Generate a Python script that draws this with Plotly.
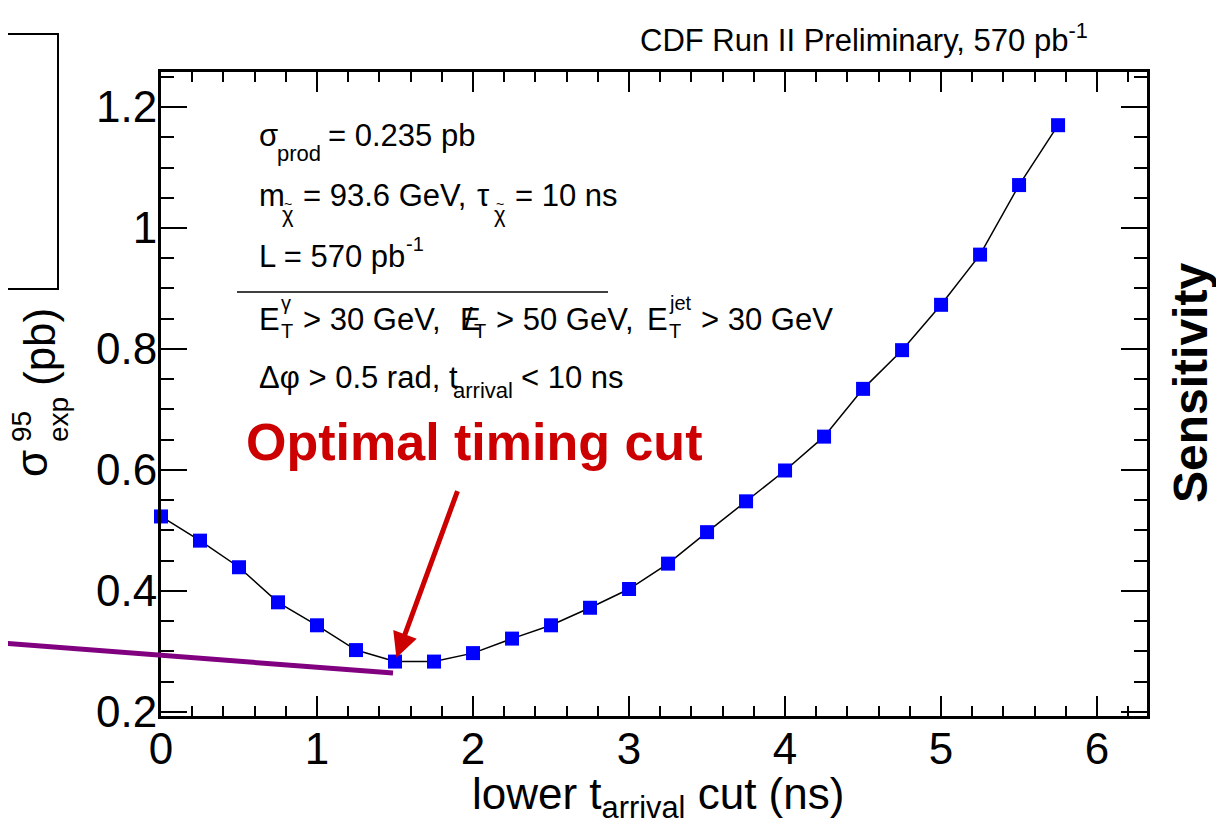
import plotly.graph_objects as go

# ---- data ----
t_cut = [0.0, 0.25, 0.5, 0.75, 1.0, 1.25, 1.5, 1.75, 2.0, 2.25, 2.5, 2.75,
         3.0, 3.25, 3.5, 3.75, 4.0, 4.25, 4.5, 4.75, 5.0, 5.25, 5.5, 5.75]
sigma_exp = [0.523, 0.483, 0.439, 0.381, 0.343, 0.302, 0.283, 0.283, 0.297, 0.321, 0.343, 0.372,
             0.403, 0.445, 0.497, 0.548, 0.599, 0.655, 0.734, 0.798, 0.873, 0.956, 1.071, 1.170]
x_tickvals = [0, 1, 2, 3, 4, 5, 6]
x_ticktext = ["0", "1", "2", "3", "4", "5", "6"]
y_tickvals = [0.2, 0.4, 0.6, 0.8, 1.0, 1.2]
y_ticktext = ["0.2", "0.4", "0.6", "0.8", "1", "1.2"]
optimal_cut = (1.5, 0.283)

W, H = 1224, 827
OFF = 8  # page body margin
L, R, T, B = 161, 77, 72, 111
PW, PH = W - L - R, H - T - B
FONT = "Liberation Sans, Arial, sans-serif"


def px(x, y):
    return (x - L) / PW, (H - B - y) / PH


fig = go.Figure()
fig.add_trace(go.Scatter(
    x=t_cut, y=sigma_exp, mode="lines+markers",
    line=dict(color="black", width=1.5),
    marker=dict(symbol="square", size=14, color="#0000ff", line=dict(width=0)),
    showlegend=False, cliponaxis=False))

ann = []


def text(x, y, s, size=31, anchor="left", color="black", angle=0, bold=False):
    xp, yp = px(x, y)
    if bold:
        s = "<b>" + s + "</b>"
    ann.append(dict(x=xp, y=yp, xref="paper", yref="paper", text=s, showarrow=False,
                    xanchor=anchor, yanchor="middle", textangle=angle,
                    font=dict(family=FONT, size=size, color=color)))


# info box text
text(257, 135, "σ")
text(275, 153, "prod", size=22)
text(326, 135, "= 0.235 pb")
text(257, 195, "m")
text(280, 214, "χ", size=22)
text(282, 204, "~", size=14)
text(301, 195, "= 93.6 GeV,")
text(475, 195, "τ")
text(492, 214, "χ", size=22)
text(494, 204, "~", size=14)
text(513, 195, "= 10 ns")
text(257, 256, "L = 570 pb")
text(404, 244, "-1", size=20)
text(257, 319, "E")
text(279, 303, "γ", size=20)
text(279, 331, "T", size=20)
text(301, 319, "> 30 GeV,")
text(458, 319, "E")
text(468, 319, "/", anchor="center")
text(472, 331, "T", size=20)
text(494, 319, "> 50 GeV,")
text(645, 319, "E")
text(667, 303, "jet", size=20)
text(667, 331, "T", size=20)
text(699, 319, "> 30 GeV")
text(257, 378, "Δφ > 0.5 rad, t")
text(451, 390, "arrival", size=22)
text(519, 378, "< 10 ns")

# top label
text(638, 38, "CDF Run II Preliminary, 570 pb<sup>-1</sup>", size=31)

# optimal cut label
text(474, 442, "Optimal timing cut", size=52, anchor="center", color="#cc0000", bold=True)

# right label
text(1190, 383, "Sensitivity", size=48, anchor="center", angle=-90, bold=True)

# y-axis title pieces
text(31, 464, "σ", size=44, anchor="center", angle=-90)
text(21, 427, "95", size=28, anchor="center", angle=-90)
text(58, 420, "exp", size=28, anchor="center", angle=-90)
text(40, 347, "(pb)", size=44, anchor="center", angle=-90)

# x-axis title
text(658, 797, "lower t<sub>arrival</sub> cut (ns)", size=44, anchor="center")

# arrow to optimal point
tx, ty = optimal_cut
ann.append(dict(x=tx, y=ty, xref="x", yref="y", text="", showarrow=True,
                ax=63, ay=-172, arrowcolor="#cc0000", arrowwidth=5, arrowhead=2,
                arrowsize=1.0, standoff=4))

shapes = []
# separator line in info box
x0, y0 = px(237, 292)
x1, y1 = px(608, 292)
shapes.append(dict(type="line", xref="paper", yref="paper", x0=x0, y0=y0, x1=x1, y1=y1,
                   line=dict(color="black", width=1.5)))
# purple overlay line
x0, y0 = px(0, 643)
x1, y1 = px(393, 673)
shapes.append(dict(type="line", xref="paper", yref="paper", x0=x0, y0=y0, x1=x1, y1=y1,
                   line=dict(color="#800080", width=5), layer="above"))
# left box
x0, y0 = px(-3, 34)
x1, y1 = px(58, 289)
shapes.append(dict(type="rect", xref="paper", yref="paper", x0=x0, y0=y1, x1=x1, y1=y0,
                   line=dict(color="black", width=2)))

fig.update_layout(
    width=W, height=H,
    margin=dict(l=L - OFF, r=R + OFF, t=T - OFF, b=B + OFF, pad=0),
    paper_bgcolor="white", plot_bgcolor="white",
    annotations=ann, shapes=shapes,
    xaxis=dict(range=[0, 6.32], tickvals=x_tickvals, ticktext=x_ticktext,
               ticks="inside", ticklen=20, tickwidth=1.5, tickcolor="black",
               showline=True, linecolor="black", linewidth=3, mirror="ticks",
               showgrid=False, zeroline=False, ticklabelstandoff=-8,
               tickfont=dict(family=FONT, size=44, color="black"),
               minor=dict(dtick=0.2, tick0=0, ticks="inside", ticklen=10, tickwidth=1.5,
                          tickcolor="black", showgrid=False)),
    yaxis=dict(range=[0.193, 1.258], tickvals=y_tickvals, ticktext=y_ticktext,
               ticks="inside", ticklen=26, tickwidth=1.5, tickcolor="black",
               showline=True, linecolor="black", linewidth=3, mirror="ticks",
               showgrid=False, zeroline=False, ticklabelstandoff=-8,
               tickfont=dict(family=FONT, size=44, color="black"),
               minor=dict(dtick=0.05, tick0=0, ticks="inside", ticklen=13, tickwidth=1.5,
                          tickcolor="black", showgrid=False)),
)

fig.write_html("out.html")
